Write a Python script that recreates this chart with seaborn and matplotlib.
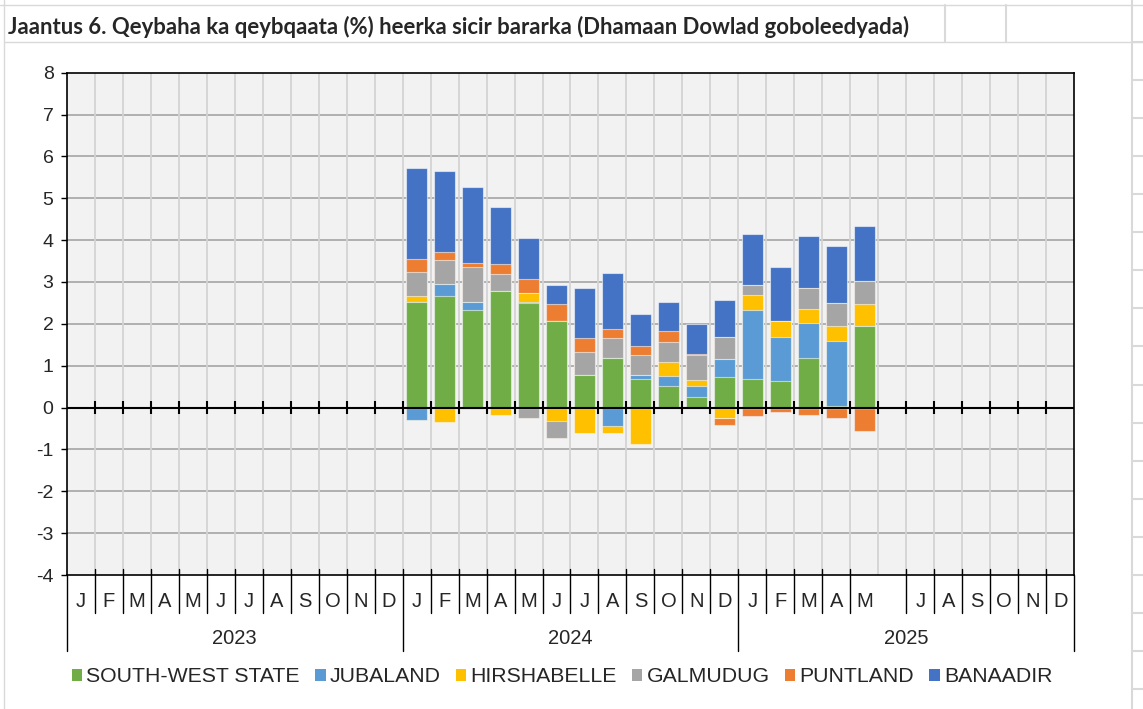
import matplotlib
matplotlib.use("Agg")
import matplotlib.pyplot as plt
import matplotlib.transforms as mtransforms
from matplotlib.lines import Line2D
from matplotlib.patches import Patch
import numpy as np
import seaborn as sns

title = "Jaantus 6. Qeybaha ka qeybqaata (%) heerka sicir bararka (Dhamaan Dowlad goboleedyada)"
years = ["2023", "2024", "2025"]
month_letters = ["J", "F", "M", "A", "M", "J", "J", "A", "S", "O", "N", "D"]
regions = ["SOUTH-WEST STATE", "JUBALAND", "HIRSHABELLE", "GALMUDUG", "PUNTLAND", "BANAADIR"]
colors = ["#70AD47", "#5B9BD5", "#FFC000", "#A5A5A5", "#ED7D31", "#4472C4"]

# contributions, Jan 2024 .. May 2025
south_west = [2.52, 2.66, 2.34, 2.78, 2.50, 2.08, 0.77, 1.18, 0.69, 0.52, 0.25, 0.73, 0.69, 0.63, 1.19, 0.03, 1.96]
jubaland = [-0.29, 0.30, 0.18, 0.00, 0.02, 0.00, 0.00, -0.45, 0.08, 0.23, 0.26, 0.42, 1.65, 1.06, 0.84, 1.55, 0.00]
hirshabelle = [0.14, -0.35, -0.03, -0.17, 0.22, -0.33, -0.61, -0.16, -0.88, 0.35, 0.16, -0.24, 0.34, 0.38, 0.32, 0.37, 0.51]
galmudug = [0.58, 0.57, 0.85, 0.40, -0.26, -0.40, 0.55, 0.49, 0.48, 0.47, 0.58, 0.54, 0.26, -0.02, 0.50, 0.54, 0.55]
puntland = [0.32, 0.18, 0.09, 0.26, 0.32, 0.39, 0.34, 0.20, 0.22, 0.25, 0.04, -0.18, -0.20, -0.08, -0.17, -0.26, -0.57]
banaadir = [2.17, 1.95, 1.81, 1.35, 1.00, 0.46, 1.20, 1.34, 0.77, 0.70, 0.71, 0.87, 1.20, 1.30, 1.24, 1.36, 1.31]
first_slot = 12  # Jan 2024 on the Jan 2023 - Dec 2025 axis

series = np.array([south_west, jubaland, hirshabelle, galmudug, puntland, banaadir])
xpos = np.arange(first_slot, first_slot + series.shape[1])
n_slots = 36
labels = month_letters * 3
labels[29] = ""  # June 2025 has no label in the source

sns.set_style("white")
plt.rcParams["font.family"] = ["Liberation Sans", "DejaVu Sans"]
plt.rcParams["axes.unicode_minus"] = False

fig = plt.figure(figsize=(11.43, 7.09), dpi=100)
W, H = 1143, 709
ax = fig.add_axes([66.7 / W, 1 - 575 / H, (1074.3 - 66.7) / W, (575 - 72.7) / H])
ax.set_facecolor("#F2F2F2")

# spreadsheet cell lines around the chart
cell = "#D9D9D9"
fig.add_artist(Line2D([0, 1], [1 - 5 / H] * 2, color=cell, lw=1))
fig.add_artist(Line2D([4 / W, 1], [1 - 42 / H] * 2, color=cell, lw=1))
fig.add_artist(Line2D([4 / W] * 2, [0, 1], color=cell, lw=1))
fig.add_artist(Line2D([1132 / W] * 2, [0, 1], color=cell, lw=1.5))
for xx in (945, 1006):
    fig.add_artist(Line2D([xx / W] * 2, [1 - 5 / H, 1 - 42 / H], color=cell, lw=1.5))
for yy in np.linspace(42, 689, 18):
    fig.add_artist(Line2D([1132 / W, 1], [1 - yy / H] * 2, color=cell, lw=1.5))

t = fig.text(8 / W, 1 - 27 / H, title, fontsize=14, fontweight="bold",
             family=["Lato", "DejaVu Sans"], va="center", ha="left")

# stacked bars: positives upward and negatives downward, in series order
pos = np.cumsum(np.clip(series, 0, None), axis=0)
neg = np.cumsum(np.clip(series, None, 0), axis=0)
for i in range(len(regions) - 1, -1, -1):
    for cum in (pos, neg):
        sns.barplot(x=xpos, y=cum[i], native_scale=True, orient="x", color=colors[i],
                    saturation=1, width=0.77, errorbar=None, ax=ax,
                    edgecolor=(1, 1, 1, 0.55), linewidth=0.8, zorder=2)

ax.set_xlim(-0.5, n_slots - 0.5)
ax.set_ylim(-4, 8)
ax.set_yticks(range(-4, 9))
ax.set_xticks([])
ax.set_xlabel("")
ax.set_ylabel("")
ax.tick_params(axis="y", length=4.5, width=1, color="black", labelsize=14, pad=5, left=True)
for yv in range(-3, 8):
    ax.axhline(yv, color="#ABABAB", lw=1.3, zorder=0.5)
bounds = np.arange(0.5, n_slots - 0.5, 1)
ax.vlines(bounds, -4, 8, color="#D3D3D3", lw=1.3, zorder=0.5)
for s in ax.spines.values():
    s.set_color("black")
    s.set_linewidth(1.2)
    s.set_visible(True)

# axis line at zero with crossing ticks
ax.axhline(0, color="black", lw=1.5, zorder=4)
ax.vlines(bounds, -0.145, 0.145, color="black", lw=1.5, zorder=4)

# two-level category axis below the plot
trans = mtransforms.blended_transform_factory(ax.transData, ax.transAxes)
for b in bounds:
    if b in (11.5, 23.5):
        ax.plot([b, b], [0.012, -0.1508], color="black", lw=1, transform=trans, clip_on=False)
    elif b != 28.5:
        ax.plot([b, b], [0.012, -0.0757], color="black", lw=1, transform=trans, clip_on=False)
for b in (-0.5, n_slots - 0.5):
    ax.plot([b, b], [0, -0.1508], color="black", lw=1, transform=trans, clip_on=False)
for k, lab in enumerate(labels):
    ax.text(k, -0.052, lab, transform=trans, ha="center", va="center", fontsize=14.5)
for j, yr in enumerate(years):
    ax.text(12 * j + 5.5, -0.1255, yr, transform=trans, ha="center", va="center", fontsize=14.5)

handles = [Patch(facecolor=c, edgecolor="none") for c in colors]
fig.legend(handles, regions, loc="center", bbox_to_anchor=(562 / W, 1 - 677 / H), ncol=6,
           frameon=False, fontsize=15.3, handlelength=0.5, handleheight=0.5,
           handletextpad=0.2, columnspacing=0.7, borderpad=0)

# fit the title width to the reference
fig.canvas.draw()
w = t.get_window_extent(fig.canvas.get_renderer()).width
t.set_fontsize(t.get_fontsize() * 905 / w)

fig.savefig("out.png", dpi=100, facecolor="white")
